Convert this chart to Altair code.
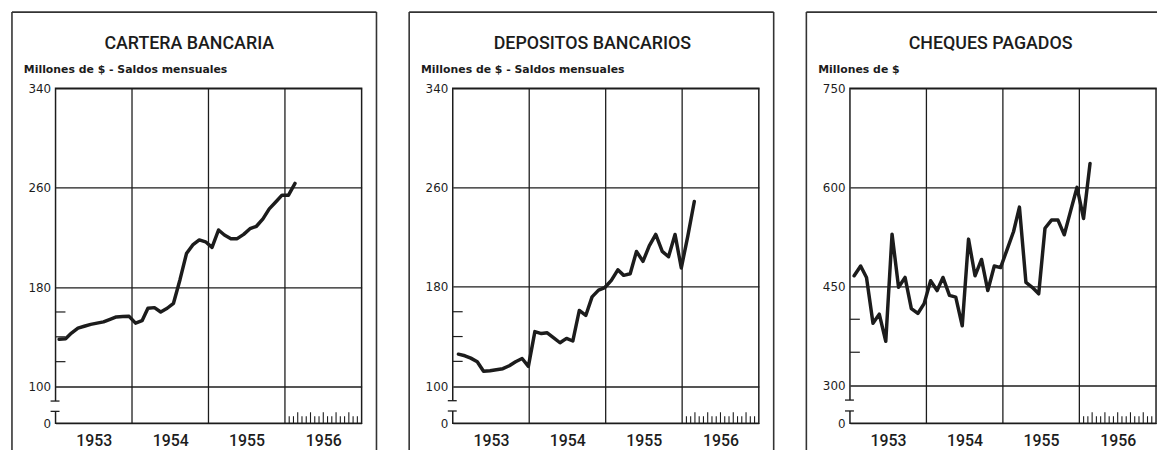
import altair as alt
import pandas as pd

# ---------------- data ----------------
years = [1953, 1954, 1955, 1956]
n_months = 38  # Jan 1953 .. Feb 1956

cartera = [138, 138.5, 143, 147, 148.5, 150, 151, 152, 154, 156, 156.3, 156.5,
           151, 153, 163, 163.5, 160, 163, 167, 186, 207, 214, 218, 216.5,
           212, 226, 222, 219, 219, 222.5, 227, 229, 235, 243, 248.5, 254,
           254, 263.5]

depositos = [125.8, 124.5, 122.6, 119.7, 112, 112.5, 113.3, 114.1, 116.5, 119.7, 122.3, 116,
             144, 142.4, 143, 139, 135, 138.5, 136.4, 161, 157, 172, 177.4, 179.5,
             185.3, 193.8, 189.3, 190.6, 208.6, 200.6, 213, 222.3, 208.6, 204.3, 222.3, 195.3,
             221, 248.8]

cheques = [465.9, 480.8, 463.4, 393.9, 407.8, 366.6, 529, 448.5, 463.4, 416.2, 408.8, 423.7,
           458.4, 443.5, 463.4, 436.1, 433.6, 390, 521.5, 465.9, 490.7, 443.5, 480.8, 478.3,
           505.6, 533, 570, 456, 448.5, 438.6, 538, 550.3, 550.3, 528, 565, 600,
           552.8, 636.3]

titles = ["CARTERA BANCARIA", "DEPOSITOS BANCARIOS", "CHEQUES PAGADOS"]
subtitles = ["Millones de $ - Saldos mensuales", "Millones de $ - Saldos mensuales", "Millones de $"]
obs_day = [18, 28, 21]                     # day of month each series is plotted at
y_bottom = [70.5, 70.2, 242.5]             # value at the broken-axis "0"
y_top = [340, 340, 750]
major_ticks = [[100, 180, 260, 340], [100, 180, 260, 340], [300, 450, 600, 750]]
minor_ticks = [[120, 140, 160], [120, 140, 160], [350, 400]]
break_marks = [[88.3, 80], [88.3, 80], [277.5, 261]]

# ---------------- styling ----------------
W, H = 309, 338
INK = "#1c1c1c"
FONT_C = "Roboto, Liberation Sans, sans-serif"
FONT_N = "DejaVu Sans, Liberation Sans, sans-serif"

months = pd.date_range("1953-01-01", periods=n_months, freq="MS")
xscale = alt.Scale(domain=[alt.DateTime(year=1953, month=1, date=1),
                           alt.DateTime(year=1957, month=1, date=1)])
X_AX = alt.Axis(values=[alt.DateTime(year=y, month=7, date=2) for y in years],
                format="%Y", labelFont=FONT_C, labelFontSize=16, labelFontWeight=500,
                labelColor=INK, ticks=False, domain=False, grid=False, labelPadding=10,
                labelFlush=False, title=None)

ruler_dates = [pd.Timestamp("1956-01-01") + pd.Timedelta(days=k * 366 / 18) for k in range(1, 18)]


def panel(i, title_x, right_frame=True):
    ymin, ymax = y_bottom[i], y_top[i]
    yscale = alt.Scale(domain=[ymin, ymax], nice=False, zero=False)
    y_ax = alt.Axis(values=[ymin] + major_ticks[i],
                    labelExpr=f"datum.value < {ymin + 1} ? '0' : format(datum.value, 'd')",
                    grid=True, gridColor=INK, gridWidth=1.3, ticks=False, domain=False,
                    labelFont=FONT_N, labelFontSize=12, labelColor=INK, labelPadding=5,
                    title=None)
    df = pd.DataFrame({"fecha": [d.replace(day=obs_day[i]) for d in months],
                       "valor": [cartera, depositos, cheques][i]})
    X = alt.X("fecha:T", scale=xscale, axis=X_AX)
    Y = alt.Y("valor:Q", scale=yscale, axis=y_ax)

    line = alt.Chart(df).mark_line(color=INK, strokeWidth=3.5, strokeJoin="round",
                                   strokeCap="round").encode(x=X, y=Y)

    vgrid = alt.Chart(pd.DataFrame({"fecha": pd.to_datetime(["1954-01-01", "1955-01-01", "1956-01-01"])})
                      ).mark_rule(color=INK, strokeWidth=1.3).encode(
        x=X, y=alt.value(0), y2=alt.value(H))

    minor = alt.Chart(pd.DataFrame({"valor": minor_ticks[i]})).mark_rule(
        color=INK, strokeWidth=1.2).encode(y=Y, x=alt.value(0), x2=alt.value(10))

    gap = alt.Chart(pd.DataFrame({"valor": [break_marks[i][0]], "b2": [break_marks[i][1]]})
                    ).mark_rule(color="white", strokeWidth=4).encode(
        y=Y, y2="b2:Q", x=alt.value(0))
    brk = alt.Chart(pd.DataFrame({"valor": break_marks[i]})).mark_rule(
        color=INK, strokeWidth=1.3).encode(y=Y, x=alt.value(-5), x2=alt.value(4))

    ruler = pd.DataFrame({"fecha": ruler_dates})
    ruler["alto"] = [k % 3 == 0 for k in range(1, 18)]
    short = alt.Chart(ruler[~ruler["alto"]]).mark_rule(color=INK, strokeWidth=1.1).encode(
        x=X, y=alt.value(H - 7), y2=alt.value(H))
    tall = alt.Chart(ruler[ruler["alto"]]).mark_rule(color=INK, strokeWidth=1.1).encode(
        x=X, y=alt.value(H - 11), y2=alt.value(H))

    one = pd.DataFrame({"t": [titles[i]], "s": [subtitles[i]]})
    ttl = alt.Chart(one).mark_text(font=FONT_C, fontSize=18, fontWeight=500, align="center",
                                   baseline="middle", color=INK).encode(
        x=alt.value(title_x), y=alt.value(-45), text="t:N")
    sub = alt.Chart(one).mark_text(font=FONT_N, fontSize=11, fontWeight="bold", align="left",
                                   baseline="middle", color=INK).encode(
        x=alt.value(-32), y=alt.value(-19), text="s:N")

    right_x = W + 15 if right_frame else W + 1
    f_left = alt.Chart(one).mark_rule(color="#333", strokeWidth=1.6).encode(
        x=alt.value(-44), y=alt.value(-77), y2=alt.value(H + 27))
    f_top = alt.Chart(one).mark_rule(color="#333", strokeWidth=1.6).encode(
        x=alt.value(-44), x2=alt.value(right_x), y=alt.value(-77))
    layers = [vgrid, minor, gap, brk, short, tall, line, ttl, sub, f_left, f_top]
    if right_frame:
        f_right = alt.Chart(one).mark_rule(color="#333", strokeWidth=1.6).encode(
            x=alt.value(right_x), y=alt.value(-77), y2=alt.value(H + 27))
        layers.append(f_right)
    return alt.layer(*layers).properties(width=W, height=H)


chart = alt.hconcat(panel(0, 135), panel(1, 141), panel(2, 142, right_frame=False),
                    spacing=29).properties(
    padding={"left": 2, "top": 0, "right": 0, "bottom": 0},
    background="white",
).configure_view(stroke=INK, strokeWidth=1.5)

chart.save("out.html", embed_options={"renderer": "svg", "actions": False})
